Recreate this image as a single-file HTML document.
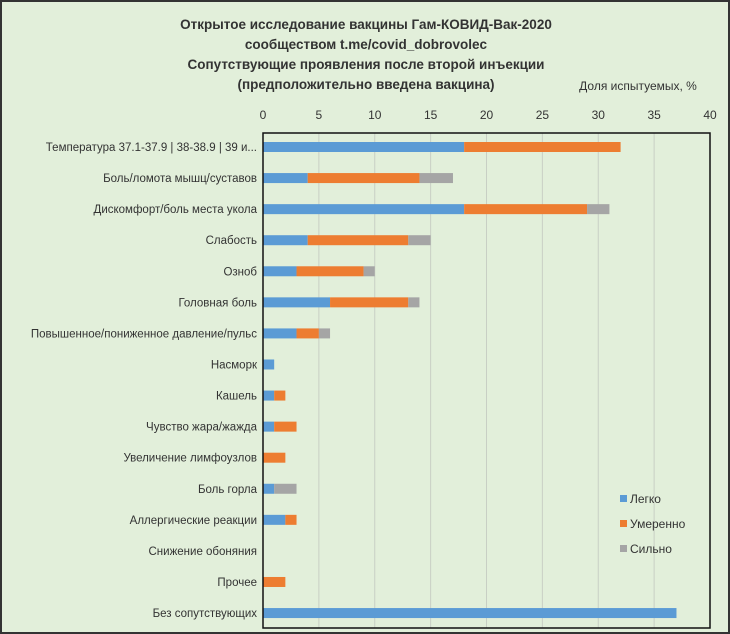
<!DOCTYPE html>
<html><head><meta charset="utf-8"><style>
body{margin:0;background:#fff}
svg{display:block;font-family:"Liberation Sans","DejaVu Sans",sans-serif}
</style></head><body>
<svg id="c" width="730" height="634">
<rect x="1" y="1" width="728" height="632" fill="#e2efda" stroke="#333" stroke-width="2"/>
<g font-size="13.5" font-weight="bold" fill="#333" text-anchor="middle">
<text x="366" y="29">Открытое исследование вакцины  Гам-КОВИД-Вак-2020</text>
<text x="366" y="49">сообществом t.me/covid_dobrovolec</text>
<text x="366" y="69">Сопутствующие проявления после второй инъекции</text>
<text x="366" y="89">(предположительно введена вакцина)</text>
</g>
<text x="638" y="90" font-size="12" fill="#333" text-anchor="middle">Доля испытуемых, %</text>
<g id="grid"></g><g id="bars"></g><g id="labels"></g><g id="ticks"></g>
<rect x="263" y="133" width="447" height="495" fill="none" stroke="#111" stroke-width="1.5"/>
<g font-size="12" fill="#333">
<g><rect x="620" y="495" width="7" height="7" fill="#5b9bd5"/><text x="630" y="503">Легко</text></g>
<g><rect x="620" y="520" width="7" height="7" fill="#ed7d31"/><text x="630" y="528">Умеренно</text></g>
<g><rect x="620" y="545" width="7" height="7" fill="#a5a5a5"/><text x="630" y="553">Сильно</text></g>
</g>
</svg>
<script>
const categories=["Температура 37.1-37.9 | 38-38.9 | 39 и...","Боль/ломота мышц/суставов","Дискомфорт/боль места укола","Слабость","Озноб","Головная боль","Повышенное/пониженное давление/пульс","Насморк","Кашель","Чувство жара/жажда","Увеличение лимфоузлов","Боль горла","Аллергические реакции","Снижение обоняния","Прочее","Без сопутствующих"];
const light=[18,4,18,4,3,6,3,1,1,1,0,1,2,0,0,37];
const moderate=[14,10,11,9,6,7,2,0,1,2,2,0,1,0,2,0];
const severe=[0,3,2,2,1,1,1,0,0,0,0,2,0,0,0,0];
const tickValues=[0,5,10,15,20,25,30,35,40];
const NS="http://www.w3.org/2000/svg";
const x0=263,x1=710,xMax=40,yTop=147,yStep=31.07,bh=10;
const xs=v=>x0+v/xMax*(x1-x0);
const ys=i=>yTop+i*yStep;
function mk(t,a,p){const e=document.createElementNS(NS,t);for(const k in a)e.setAttribute(k,a[k]);p.appendChild(e);return e;}
const G=document.getElementById('grid'),B=document.getElementById('bars'),L=document.getElementById('labels'),T=document.getElementById('ticks');
tickValues.forEach(v=>{
 const l=mk('line',{x1:xs(v),x2:xs(v),y1:133,y2:628,stroke:'#c8cfc4','stroke-width':1},G);
 
 
 const t=mk('text',{x:xs(v),y:119,'font-size':12,fill:'#333','text-anchor':'middle'},T);
 t.textContent=v;
 
 
});
const series=[[light,'#5b9bd5','light'],[moderate,'#ed7d31','moderate'],[severe,'#a5a5a5','severe']];
categories.forEach((c,i)=>{
 const t=mk('text',{x:257,y:ys(i)+4,'font-size':11.5,fill:'#333','text-anchor':'end'},L);
 t.textContent=c;
 
 
 let acc=0;
 series.forEach(([arr,col,n])=>{
  const v=arr[i];
  if(v>0){
   const r=mk('rect',{x:xs(acc),y:ys(i)-bh/2,width:xs(acc+v)-xs(acc),height:bh,fill:col},B);
   
   
  }
  acc+=v;
 });
});
</script>
</body></html>
